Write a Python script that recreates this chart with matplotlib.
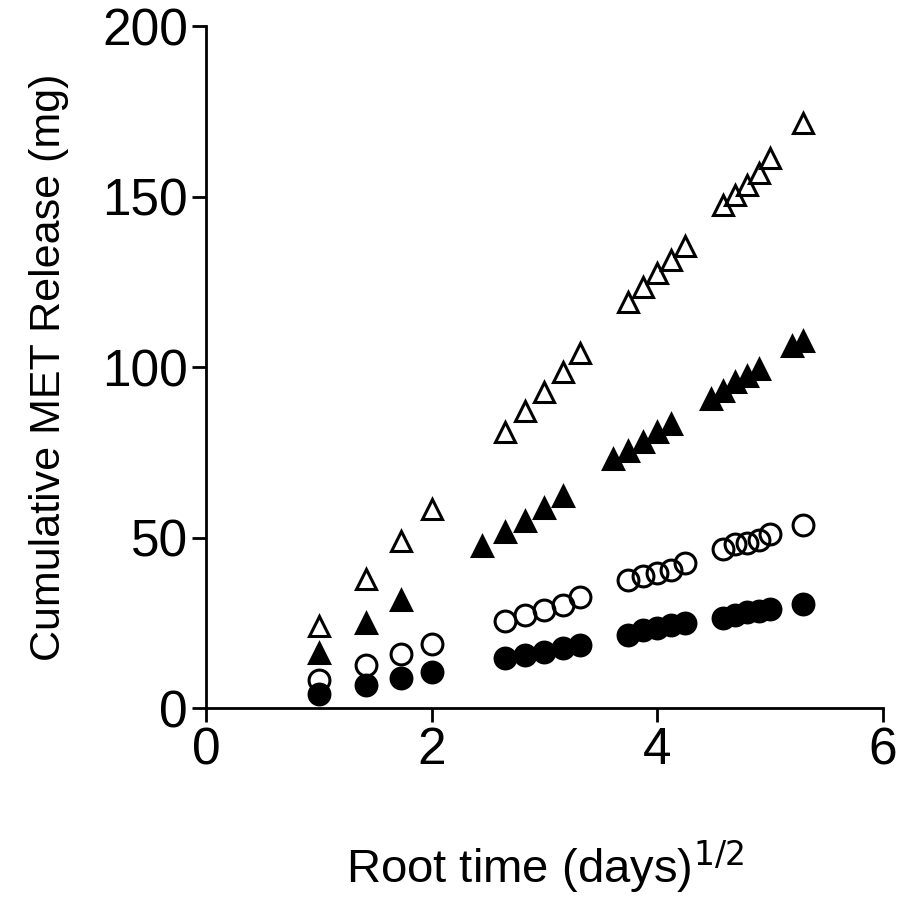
import numpy as np
import matplotlib
matplotlib.use('Agg')
import matplotlib.pyplot as plt

plt.rcParams['font.family'] = ['Liberation Sans', 'DejaVu Sans']

# sampling days (x axis is the square root of these)
days_a = [1, 2, 3, 4, 7, 8, 9, 10, 11, 14, 15, 16, 17, 18, 21, 22, 23, 24, 25, 28]
days_b = [1, 2, 3, 6, 7, 8, 9, 10, 13, 14, 15, 16, 17, 20, 21, 22, 23, 24, 27, 28]

# cumulative release (mg)
open_tri = [24.1, 37.9, 49.1, 58.5, 80.9, 87.1, 92.6, 98.5, 104.1, 119.1,
            123.5, 127.6, 131.5, 135.6, 147.4, 150.3, 153.5, 157.0, 161.2, 171.5]
filled_tri = [16.2, 25.0, 31.8, 47.4, 51.5, 54.7, 58.6, 62.1, 72.9, 75.3,
              77.9, 80.9, 83.2, 90.6, 93.0, 95.6, 97.4, 99.4, 106.2, 107.6]
open_circ = [8.2, 12.6, 15.9, 18.8, 25.6, 27.4, 28.8, 30.3, 32.6, 37.4,
             38.8, 39.7, 40.6, 42.4, 46.5, 48.0, 48.5, 49.4, 50.9, 53.8]
filled_circ = [4.1, 6.8, 8.8, 10.6, 14.7, 15.6, 16.5, 17.6, 18.5, 21.5,
               23.0, 23.5, 24.4, 25.0, 26.5, 27.4, 28.2, 28.5, 29.1, 30.6]

xa = np.sqrt(days_a)
xb = np.sqrt(days_b)

fig = plt.figure(figsize=(9.22, 8.97), dpi=100)
ax = fig.add_axes([0.2234, 0.2107, 0.7343, 0.7603])

ms = 15
mew = 2.2
ax.plot(xa, open_tri, '^', ms=ms, mfc='none', mec='black', mew=mew, clip_on=False)
ax.plot(xb, filled_tri, '^', ms=ms, mfc='black', mec='black', mew=mew, clip_on=False)
ax.plot(xa, open_circ, 'o', ms=ms, mfc='none', mec='black', mew=mew, clip_on=False)
ax.plot(xa, filled_circ, 'o', ms=ms, mfc='black', mec='black', mew=mew, clip_on=False)

ax.set_xlim(0, 6)
ax.set_ylim(0, 200)
ax.set_xticks([0, 2, 4, 6])
ax.set_yticks([0, 50, 100, 150, 200])

for s in ['top', 'right']:
    ax.spines[s].set_visible(False)
for s in ['left', 'bottom']:
    ax.spines[s].set_linewidth(2.0)

ax.tick_params(axis='both', direction='out', length=10, width=2.0, labelsize=37, pad=3)

ax.set_xlabel('Root time (days)$^{1/2}$', fontsize=34, labelpad=45)
ax.set_ylabel('Cumulative MET Release (mg)', fontsize=31, labelpad=24)

fig.savefig('out.png', dpi=100)
plt.close()
